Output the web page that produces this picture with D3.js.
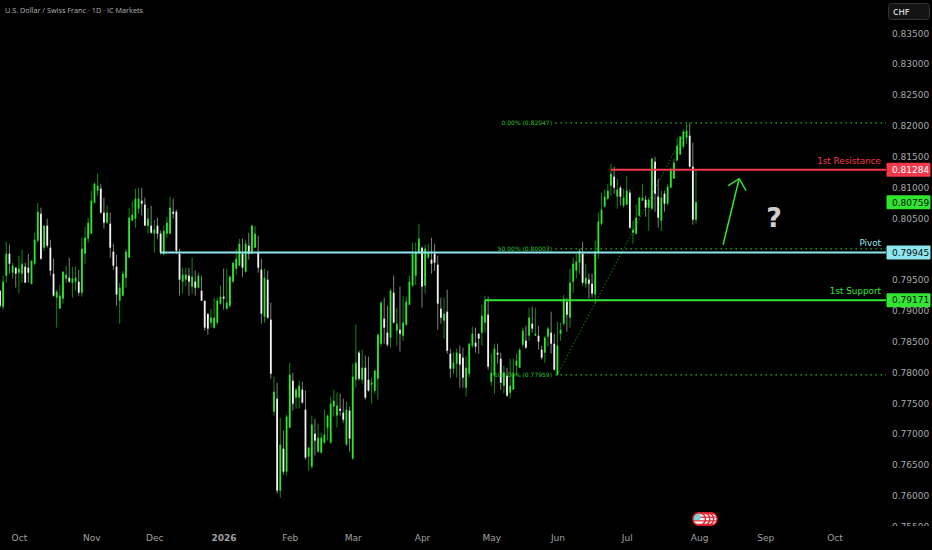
<!DOCTYPE html>
<html>
<head>
<meta charset="utf-8">
<script src="https://cdn.jsdelivr.net/npm/d3@7"></script>
<style>
html, body { margin: 0; padding: 0; background: #000; overflow: hidden; }
text { font-family: "DejaVu Sans", sans-serif; }
</style>
</head>
<body>
<svg id="container" width="932" height="550"></svg>
<script>
// daily candles, oct 2025 to aug 2026
var highs = [.79325,.79568,.80119,.80070,.79779,.79698,.79892,.79989,.79779,.79924,.79811,.80265,.80752,.80671,.80379,.80492,.80151,.79843,.79341,.79422,
.79633,.79730,.79860,.79714,.79714,.79665,.80184,.80362,.80508,.80946,.81076,.81222,.81059,.80833,.80703,.80589,.80086,.79908,.79454,.79649,
.80005,.80671,.80768,.80979,.80995,.80995,.80833,.80671,.80703,.80476,.80508,.80297,.80379,.80524,.80849,.80816,.80638,.80005,.79698,.79698,
.79698,.79860,.79649,.79616,.79568,.79162,.78951,.79032,.79211,.79211,.79406,.79681,.79681,.79568,.79779,.80005,.80168,.80168,.80151,.80265,
.80395,.80379,.80216,.79843,.79681,.79649,.79130,.77930,.77833,.77265,.77055,.77314,.78157,.77995,.77752,.77865,.77849,.77703,.76795,.77298,
.77249,.77168,.77022,.77395,.77314,.77606,.77719,.77670,.77654,.77573,.77525,.77444,.78141,.78773,.78352,.78368,.78271,.78255,.77914,.78044,
.78627,.79162,.79211,.79081,.79357,.79568,.79049,.79390,.79244,.79227,.79568,.80103,.80103,.80411,.80038,.80070,.80086,.80184,.80086,.79892,
.79211,.79211,.79341,.78384,.78319,.78384,.78433,.78400,.78271,.78481,.78741,.78725,.78627,.79097,.79244,.79227,.78303,.78465,.78465,.78319,
.78108,.78076,.78222,.78222,.78303,.78400,.78725,.78757,.79049,.79065,.79049,.78757,.78433,.78595,.78741,.78984,.78627,.78822,.78806,.79260,
.79211,.79681,.79860,.79924,.80005,.80119,.79762,.79600,.79600,.80135,.80589,.80914,.80962,.81059,.81384,.81335,.81141,.81027,.80979,.81189,
.80962,.80460,.80719,.80849,.81059,.80865,.80833,.81481,.81497,.81141,.80946,.80946,.81059,.81319,.81465,.81806,.81838,.81935,.82047,.82033,
.81724,.81270];

var lows = [.79049,.79016,.79454,.79600,.79519,.79373,.79276,.79454,.79454,.79454,.79422,.79730,.80103,.79827,.79973,.80022,.79568,.79227,.78725,.79032,
.79114,.79454,.79454,.79211,.79325,.79244,.79227,.79762,.80103,.80249,.80735,.80865,.80573,.80330,.80411,.79860,.79665,.79081,.78790,.79244,
.79373,.79860,.80460,.80346,.80573,.80541,.80379,.80249,.80249,.79941,.80168,.79908,.79892,.80184,.80249,.80492,.79924,.79244,.79276,.79406,
.79244,.79276,.79244,.79357,.79162,.78676,.78611,.78725,.78709,.78773,.79097,.79016,.79016,.79049,.79454,.79584,.79730,.79552,.79616,.79827,
.79924,.80022,.79616,.78790,.78806,.78870,.77897,.77298,.76033,.75968,.76341,.76325,.77103,.77379,.77411,.77411,.77492,.76584,.76406,.76438,
.76649,.76698,.76682,.76844,.76893,.76844,.77282,.77103,.77298,.77184,.76811,.76714,.76584,.77752,.77865,.77816,.77557,.77687,.77492,.77654,
.77557,.78417,.78465,.78417,.78400,.78790,.78433,.78336,.78514,.78757,.79097,.79390,.79422,.79924,.79049,.79276,.79843,.79600,.79649,.78692,
.78790,.78546,.78303,.77914,.77978,.77914,.77752,.77752,.77606,.77914,.78400,.78319,.78303,.78433,.78644,.78044,.77784,.77654,.78141,.77719,
.77654,.77606,.77590,.77719,.77946,.78076,.78400,.78384,.78514,.78644,.78595,.78368,.78206,.78157,.78417,.78303,.78027,.77946,.78514,.78757,
.78660,.78725,.79292,.79519,.79600,.79406,.79373,.79195,.79211,.79114,.79843,.80379,.80671,.80800,.80865,.80897,.80654,.80703,.80671,.80719,
.80330,.80086,.80233,.80524,.80784,.80524,.80297,.80638,.80605,.80346,.80297,.80605,.80703,.80995,.81141,.81433,.81595,.81627,.81708,.81319,
.80395,.80411];

var opens = [.79325,.79065,.79568,.79924,.79616,.79698,.79616,.79600,.79714,.79698,.79438,.79762,.80135,.80573,.80022,.80379,.80022,.79600,.79211,.79032,
.79195,.79519,.79535,.79454,.79471,.79471,.79292,.79924,.80168,.80249,.80752,.80946,.80979,.80589,.80427,.80411,.79957,.79714,.79162,.79244,
.79535,.79860,.80460,.80492,.80654,.80784,.80719,.80379,.80379,.80249,.80379,.80249,.79924,.80249,.80249,.80605,.80605,.79924,.79471,.79503,
.79568,.79390,.79471,.79373,.79325,.79162,.78951,.78806,.78725,.78806,.79114,.79227,.79032,.79081,.79471,.79681,.79730,.79924,.79633,.80054,
.79924,.80022,.79941,.79665,.78903,.79503,.78854,.77363,.77573,.76082,.76763,.76390,.77103,.77865,.77590,.77590,.77719,.77395,.76633,.76471,
.77006,.76714,.76698,.76860,.77103,.76860,.77444,.77298,.77411,.77346,.76828,.77379,.76601,.77881,.78319,.77881,.78076,.77881,.77800,.77703,
.77897,.78465,.78870,.78644,.78562,.79292,.78676,.78692,.78595,.78773,.79097,.79406,.79568,.79941,.80022,.79406,.79860,.79827,.79924,.79746,
.79032,.78838,.78984,.78303,.78060,.78141,.78303,.78238,.77752,.77978,.78433,.78481,.78627,.78644,.78806,.78935,.77849,.77946,.78319,.78222,
.77784,.77946,.77670,.77719,.78108,.78076,.78449,.78514,.78595,.78790,.78595,.78595,.78368,.78319,.78579,.78644,.78465,.77962,.78627,.78790,
.79146,.78887,.79471,.79649,.79779,.79924,.79438,.79503,.79438,.79260,.79941,.80411,.80687,.80816,.81027,.81173,.80849,.80995,.80703,.80719,
.80914,.80265,.80249,.80541,.80784,.80800,.80671,.80654,.81416,.80849,.80460,.80897,.80735,.80995,.81141,.81433,.81530,.81660,.81806,.81838,
.81335,.80476];

var closes = [.79081,.79471,.79924,.79762,.79730,.79600,.79681,.79762,.79454,.79616,.79811,.80151,.80605,.79843,.80379,.80054,.79649,.79244,.79309,.79244,
.79633,.79584,.79471,.79519,.79535,.79292,.80005,.80184,.80427,.80784,.81059,.81027,.80589,.80427,.80589,.80022,.79730,.79260,.79373,.79600,
.79957,.80508,.80557,.80816,.80816,.80735,.80379,.80492,.80265,.80314,.80249,.79941,.80297,.80427,.80671,.80573,.79973,.79503,.79584,.79584,
.79471,.79552,.79373,.79568,.79162,.78725,.78709,.78887,.78887,.79162,.79227,.79195,.79130,.79552,.79779,.79843,.80086,.79698,.80086,.79924,
.80379,.80249,.79698,.78951,.79535,.78887,.77978,.77687,.76082,.76828,.76390,.77282,.77962,.77492,.77719,.77784,.77509,.76617,.76779,.77152,
.76893,.76941,.76941,.76990,.77298,.77492,.77541,.77460,.77379,.77233,.77395,.76925,.77930,.78157,.77897,.78076,.77590,.77703,.77833,.78027,
.78611,.79130,.78725,.78449,.79325,.78806,.78790,.78627,.78806,.79146,.79471,.79924,.79941,.80168,.79390,.80005,.79941,.79762,.79779,.79114,
.78887,.78951,.78352,.78060,.78157,.78319,.78125,.77914,.78076,.78465,.78627,.78417,.78546,.78919,.79162,.78092,.77995,.78384,.78287,.77833,
.77995,.77622,.77784,.77978,.78190,.78368,.78676,.78400,.78887,.78709,.78627,.78498,.78238,.78562,.78709,.78465,.78044,.78433,.78692,.79195,
.78935,.79454,.79762,.79795,.79973,.79454,.79535,.79438,.79276,.79957,.80444,.80638,.80849,.80946,.81222,.80995,.80962,.80849,.80833,.80946,
.80346,.80314,.80508,.80833,.80833,.80671,.80800,.81465,.80897,.80508,.80833,.80735,.81011,.81287,.81400,.81676,.81822,.81903,.81919,.81335,
.80476,.80759];

var monthLabels = ["Oct", "Nov", "Dec", "2026", "Feb", "Mar", "Apr", "May", "Jun", "Jul", "Aug", "Sep", "Oct"];
var monthIndex = [6, 29, 49, 71, 92, 112, 134, 156, 177, 199, 222, 243, 265];
// .80 is not listed, it would sit right under the pivot tag
var priceTicks = [.755, .76, .765, .77, .775, .78, .785, .79, .795, .805, .81, .815, .82, .825, .83, .835];

var levelNames = ["1st Resistance", "Pivot", "1st Support"];
var levelPrices = [.81284, .79945, .79171];
var levelStart = [194, 51, 154];
var levelColors = ["#f5394a", "#8ce8ee", "#33e633"];
var levelTextColors = ["#ffffff", "#0a0a0a", "#0a0a0a"];

var fibNames = ["0.00%", "50.00%", "100.00%"];
var fibPrices = [.82047, .80003, .77959];
var fibFrom = [177, .77959];
var fibTo = [219, .82047];

var lastPrice = .80759;
var arrowShaft = [[229.6, .8007], [234.7, .8114]];
var arrowHead = [[231.2, .81027], [234.7, .8114], [236.9, .80946]];
var eventIndex = [222, 223.4, 224.6, 225.7];

var width = 932, height = 550, plotRight = 886, plotBottom = 526;
var GREEN = "#2ee62e", WHITE = "#f2f2f2", DIMGREEN = "#118a11", DIMWHITE = "#808080";

var svg = d3.select("#container");
svg.append("rect").attr("width", width).attr("height", height).attr("fill", "#000");

var x = d3.scaleLinear().domain([0, 221]).range([0, 696]);
var y = d3.scaleLinear().domain([.76, .82]).range([495.7, 125.7]);

function drawAxes() {
    var yAxis = svg.append("g")
      .attr("class", "y-axis")
      .attr("transform", "translate(892 0)")
      .call(d3.axisRight(y).tickValues(priceTicks).tickSize(0).tickPadding(0).tickFormat(d3.format(".5f")));
    yAxis.select(".domain").remove();
    yAxis.selectAll("text")
      .attr("fill", "#a8a8a8")
      .style("font-size", "9px");

    // the lowest price label gets cut by the time strip
    svg.append("rect")
      .attr("y", plotBottom)
      .attr("width", width)
      .attr("height", height - plotBottom)
      .attr("fill", "#000");

    var xAxis = svg.append("g")
      .attr("class", "x-axis")
      .attr("transform", "translate(0 535)")
      .call(d3.axisBottom(x).tickValues(monthIndex).tickSize(0).tickPadding(0)
        .tickFormat(function(d, i) { return monthLabels[i]; }));
    xAxis.select(".domain").remove();
    xAxis.selectAll("text")
      .attr("fill", "#a0a0a0")
      .style("font-size", "9px")
      .style("font-weight", function(d, i) { return monthLabels[i] == "2026" ? "bold" : "normal"; });
}

function drawFib() {
    var fib = svg.append("g").attr("class", "fib");
    fib.selectAll("line.level")
      .data(fibPrices)
      .enter()
      .append("line")
      .attr("class", "level")
      .attr("x1", x(fibFrom[0]) - 2)
      .attr("x2", plotRight)
      .attr("y1", function(d) { return y(d); })
      .attr("y2", function(d) { return y(d); })
      .attr("stroke", "#25b825")
      .attr("stroke-width", 1.2)
      .attr("stroke-dasharray", "1.5 3.5");
    fib.append("line")
      .attr("x1", x(fibFrom[0]))
      .attr("y1", y(fibFrom[1]))
      .attr("x2", x(fibTo[0]))
      .attr("y2", y(fibTo[1]))
      .attr("stroke", "#128a12")
      .attr("stroke-width", 1)
      .attr("stroke-dasharray", "1.5 2");
}

function drawCandles() {
    var idx = d3.range(closes.length);
    var candles = svg.append("g").attr("class", "candles");
    candles.selectAll("line")
      .data(idx)
      .enter()
      .append("line")
      .attr("x1", function(i) { return x(i); })
      .attr("x2", function(i) { return x(i); })
      .attr("y1", function(i) { return y(highs[i]); })
      .attr("y2", function(i) { return y(lows[i]); })
      .attr("stroke", function(i) { return closes[i] >= opens[i] ? DIMGREEN : DIMWHITE; })
      .attr("stroke-width", 1);
    candles.selectAll("rect")
      .data(idx)
      .enter()
      .append("rect")
      .attr("x", function(i) { return x(i) - 0.9; })
      .attr("width", 1.8)
      .attr("y", function(i) { return y(Math.max(opens[i], closes[i])); })
      .attr("height", function(i) { return Math.max(1, Math.abs(y(opens[i]) - y(closes[i]))); })
      .attr("fill", function(i) { return closes[i] >= opens[i] ? GREEN : WHITE; });
}

function drawFibLabels() {
    svg.append("g").attr("class", "fib-labels")
      .selectAll("text")
      .data(fibPrices)
      .enter()
      .append("text")
      .attr("x", 552)
      .attr("y", function(d) { return y(d) + 2.3; })
      .attr("text-anchor", "end")
      .attr("fill", "#2ec42e")
      .style("font-size", "6px")
      .text(function(d, i) { return fibNames[i] + " (" + d3.format(".5f")(d) + ")"; });
}

function drawLevels() {
    var levels = svg.append("g").attr("class", "levels");
    levels.selectAll("line")
      .data(levelPrices)
      .enter()
      .append("line")
      .attr("x1", function(d, i) { return x(levelStart[i]); })
      .attr("x2", plotRight)
      .attr("y1", function(d) { return y(d); })
      .attr("y2", function(d) { return y(d); })
      .attr("stroke", function(d, i) { return levelColors[i]; })
      .attr("stroke-width", 2);
    levels.selectAll("text")
      .data(levelPrices)
      .enter()
      .append("text")
      .attr("x", 881)
      .attr("y", function(d) { return y(d) - 6; })
      .attr("text-anchor", "end")
      .attr("fill", function(d, i) { return levelColors[i]; })
      .style("font-size", "8.8px")
      .text(function(d, i) { return levelNames[i]; });
}

function priceTag(price, fill, textColor) {
    var g = svg.append("g").attr("class", "tag");
    g.append("rect")
      .attr("x", 886.5)
      .attr("y", y(price) - 7)
      .attr("width", 44)
      .attr("height", 14)
      .attr("rx", 1)
      .attr("fill", fill);
    g.append("text")
      .attr("x", 892)
      .attr("y", y(price) + 3.3)
      .attr("fill", textColor)
      .style("font-size", "9px")
      .text(d3.format(".5f")(price));
}

function drawArrow() {
    var line = d3.line()
      .x(function(d) { return x(d[0]); })
      .y(function(d) { return y(d[1]); });
    svg.append("path").datum(arrowShaft).attr("d", line)
      .attr("fill", "none").attr("stroke", GREEN).attr("stroke-width", 1.5);
    svg.append("path").datum(arrowHead).attr("d", line)
      .attr("fill", "none").attr("stroke", GREEN).attr("stroke-width", 1.5);
    svg.append("text")
      .attr("x", 774)
      .attr("y", 227)
      .attr("text-anchor", "middle")
      .attr("fill", "#cfcfcf")
      .style("font-size", "27px")
      .style("font-weight", "bold")
      .text("?");
}

function drawEvents() {
    var cy = 519;
    var g = svg.append("g").attr("class", "events");
    eventIndex.slice().reverse().forEach(function(d, n) {
        var cx = x(d);
        var clipId = "flag" + n;
        g.append("clipPath").attr("id", clipId)
          .append("circle").attr("cx", cx).attr("cy", cy).attr("r", 6.3);
        var flag = g.append("g").attr("clip-path", "url(#" + clipId + ")");
        flag.append("rect").attr("x", cx - 7).attr("y", cy - 7).attr("width", 14).attr("height", 14).attr("fill", "#f4f4f4");
        d3.range(0, 4).forEach(function(s) {
            flag.append("rect").attr("x", cx - 7).attr("y", cy - 6 + s * 3.6).attr("width", 14).attr("height", 1.2).attr("fill", "#e0313f");
        });
        flag.append("rect").attr("x", cx - 7).attr("y", cy - 7).attr("width", 8).attr("height", 8).attr("fill", "#7ecfd8");
        g.append("circle").attr("cx", cx).attr("cy", cy).attr("r", 6.3)
          .attr("fill", "none").attr("stroke", "#e8202f").attr("stroke-width", 1.4);
    });
}

function drawHeader() {
    svg.append("text")
      .attr("x", 5)
      .attr("y", 13)
      .style("font-family", "'Open Sans', sans-serif")
      .attr("fill", "#b4b4b4")
      .style("font-size", "7.3px")
      .text("U.S. Dollar / Swiss Franc · 1D · IC Markets");
    svg.append("rect")
      .attr("x", 888.5)
      .attr("y", 3.5)
      .attr("width", 41)
      .attr("height", 16)
      .attr("rx", 3)
      .attr("fill", "#141414")
      .attr("stroke", "#333");
    svg.append("text")
      .attr("x", 893)
      .attr("y", 14.5)
      .style("font-family", "'Open Sans', sans-serif")
      .attr("fill", "#d8d8d8")
      .style("font-size", "8.5px")
      .style("font-weight", "600")
      .text("CHF");
}

drawAxes();
drawFib();
drawCandles();
drawFibLabels();
drawLevels();
levelPrices.forEach(function(d, i) { priceTag(d, levelColors[i], levelTextColors[i]); });
priceTag(lastPrice, GREEN, "#0a0a0a");
drawArrow();
drawEvents();
drawHeader();
</script>
</body>
</html>
